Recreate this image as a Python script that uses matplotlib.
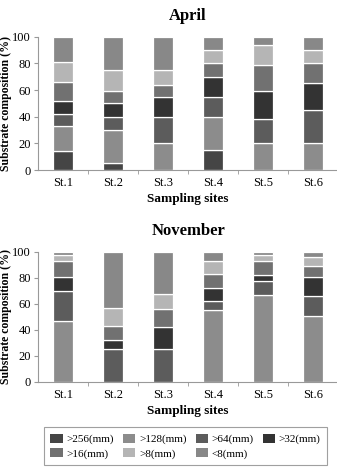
import numpy as np
import matplotlib.pyplot as plt

plt.rcParams['font.family'] = ['Liberation Serif', 'DejaVu Serif']

sites = ['St.1', 'St.2', 'St.3', 'St.4', 'St.5', 'St.6']
classes = ['>256(mm)', '>128(mm)', '>64(mm)', '>32(mm)', '>16(mm)', '>8(mm)', '<8(mm)']
colors = ['#454545', '#8c8c8c', '#5c5c5c', '#333333', '#717171', '#b5b5b5', '#888888']

# percent of each size class per site (rows follow classes)
april = [
    [14, 5, 0, 15, 0, 0],
    [19, 25, 20, 25, 20, 20],
    [9, 10, 20, 15, 18, 25],
    [10, 10, 15, 15, 21, 20],
    [14, 9, 9, 10, 20, 15],
    [15, 16, 11, 10, 15, 10],
    [19, 25, 25, 10, 6, 10],
]
november = [
    [0, 0, 0, 0, 0, 0],
    [47, 0, 0, 55, 67, 51],
    [23, 25, 25, 7, 11, 15],
    [11, 7, 17, 10, 4, 15],
    [12, 11, 14, 11, 11, 8],
    [5, 14, 12, 10, 5, 7],
    [2, 43, 32, 7, 2, 4],
]

fig = plt.figure(figsize=(3.37, 4.71), dpi=100)
ax1 = fig.add_axes([0.113, 0.639, 0.89, 0.283])
ax2 = fig.add_axes([0.113, 0.189, 0.89, 0.276])

def draw(ax, data, title):
    x = np.arange(len(sites))
    bottom = np.zeros(len(sites))
    for vals, c, lab in zip(data, colors, classes):
        vals = np.array(vals, dtype=float)
        ax.bar(x, vals, 0.4, bottom=bottom, color=c, edgecolor='white',
               linewidth=0.9, label=lab)
        bottom += vals
    ax.set_xlim(-0.5, len(sites) - 0.5)
    ax.set_ylim(0, 100)
    ax.set_yticks(range(0, 101, 20))
    ax.set_xticks(x)
    ax.set_xticklabels(sites)
    ax.set_xticks(np.arange(0.5, len(sites) - 0.5, 1), minor=True)
    ax.tick_params(axis='x', which='major', length=0, labelsize=9, pad=5)
    ax.tick_params(axis='x', which='minor', length=3, color='#999999')
    ax.tick_params(axis='y', length=3, color='#999999', labelsize=9, pad=2)
    for s in ['top', 'right']:
        ax.spines[s].set_visible(False)
    for s in ['left', 'bottom']:
        ax.spines[s].set_color('#999999')
    ax.set_title(title, fontsize=12, fontweight='bold', pad=12)
    ax.set_xlabel('Sampling sites', fontsize=9.5, fontweight='bold', labelpad=3)
    ax.set_ylabel('Substrate composition (%)', fontsize=8.5, fontweight='bold')
    ax.yaxis.set_label_coords(-0.088, 0.5)

draw(ax1, april, 'April')
draw(ax2, november, 'November')

h, l = ax1.get_legend_handles_labels()
order = [0, 4, 1, 5, 2, 6, 3]
leg = fig.legend([h[i] for i in order], [l[i] for i in order], ncol=4, loc='lower left',
                 bbox_to_anchor=(0.113, 0.0, 0.875, 0.104),
                 mode='expand', fontsize=8, frameon=True, fancybox=False,
                 handlelength=1.1, handleheight=0.9, handletextpad=0.35,
                 columnspacing=0.3, borderpad=0.6, labelspacing=0.35)
leg.get_frame().set_edgecolor('#888888')
leg.get_frame().set_linewidth(0.8)
for p in leg.get_patches():
    p.set_edgecolor('none')

fig.savefig('out.png', dpi=100)
